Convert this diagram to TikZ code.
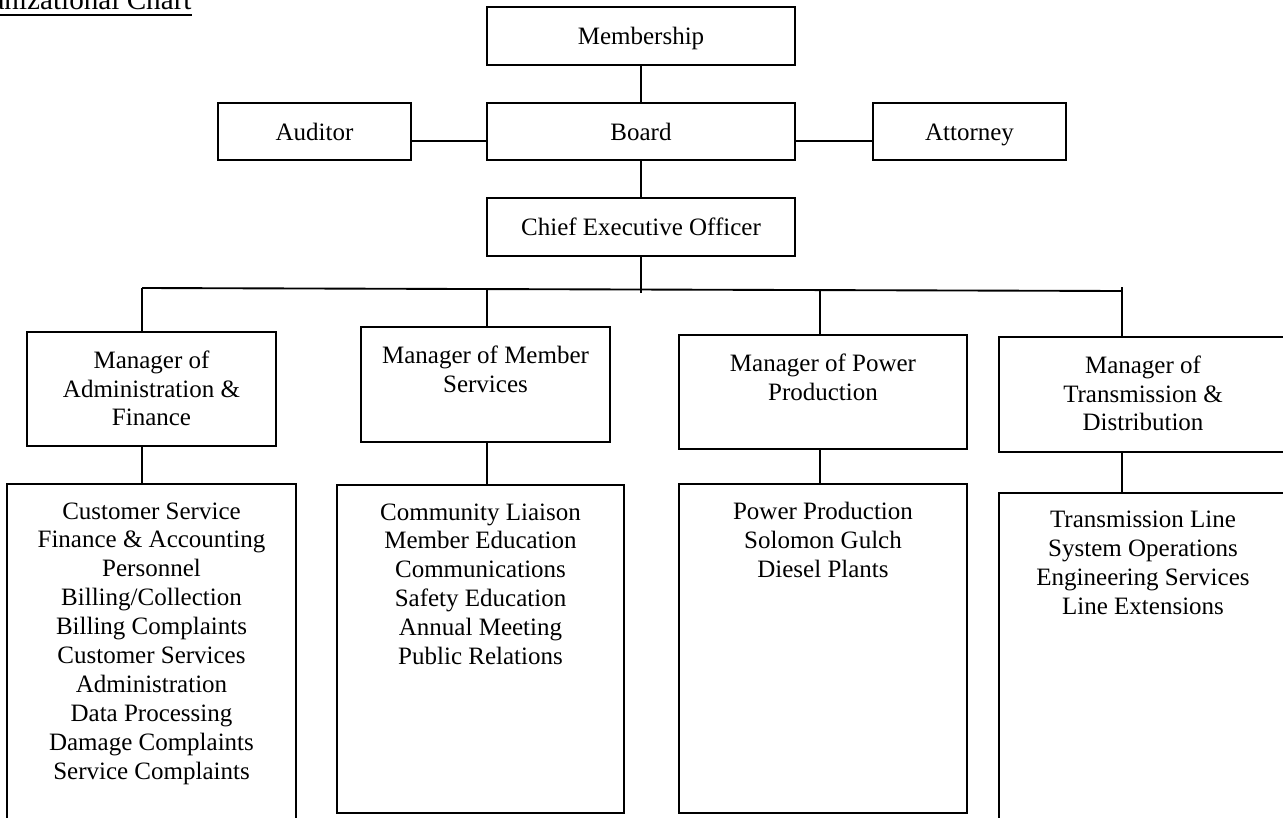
\documentclass[tikz,border=0pt]{standalone}
\usepackage{fontspec}
\setmainfont{Liberation Serif}
\newcommand\fs{\fontsize{12}{13.9}\selectfont}
\tikzset{
  boxst/.style={draw, line width=0.9pt, inner sep=0pt, font=\fs, text height=10pt, text depth=1.8pt},
  txt/.style={inner sep=0pt, align=center, font=\fs, anchor=north},
  conn/.style={line width=0.9pt},
}
\newcommand\orgbox[6]{\node[boxst, minimum width={(#4-#2)*0.48pt}, minimum height={(#5-#3)*0.48pt}] (#1) at ({(#2+#4)/2},{(#3+#5)/2}) {#6};}
\begin{document}
\begin{tikzpicture}[x=0.48pt,y=-0.48pt]
\useasboundingbox (0,0) rectangle (1283,817);
% title
\node[anchor=base east, inner sep=0pt, font=\fontsize{14}{16}\selectfont] (title) at (192,10) {Organizational Chart};
\draw[line width=0.9pt] ([yshift=-2.4pt]title.base west) -- ([yshift=-2.4pt]title.base east);
% top boxes
\orgbox{mem}{487}{7}{795}{65}{Membership}
\orgbox{board}{487}{103}{795}{160}{Board}
\orgbox{ceo}{487}{198}{795}{256}{Chief Executive Officer}
\orgbox{aud}{218}{103}{411}{160}{Auditor}
\orgbox{att}{873}{103}{1066}{160}{Attorney}
% manager boxes
\orgbox{ma}{27}{332}{276}{446}{}
\orgbox{mm}{361}{327}{610}{442}{}
\orgbox{mp}{679}{335}{967}{449}{}
\orgbox{mt}{999}{337}{1287}{452}{}
% detail boxes
\orgbox{da}{7}{484}{296}{830}{}
\orgbox{dm}{337}{485}{624}{813}{}
\orgbox{dp}{679}{484}{967}{813}{}
\orgbox{dt}{999}{493}{1287}{830}{}
% texts
\node[txt] (tma) at ([yshift=-9.1pt]ma.north) {Manager of\\Administration \&\\Finance};
\node[txt] (tmm) at ([yshift=-9.1pt]mm.north) {Manager of Member\\Services};
\node[txt] (tmp) at ([yshift=-9.1pt]mp.north) {Manager of Power\\Production};
\node[txt] (tmt) at ([yshift=-9.1pt]mt.north) {Manager of\\Transmission \&\\Distribution};
\node[txt] (tda) at ([yshift=-9.1pt]da.north) {Customer Service\\Finance \& Accounting\\Personnel\\Billing/Collection\\Billing Complaints\\Customer Services\\Administration\\Data Processing\\Damage Complaints\\Service Complaints};
\node[txt] (tdm) at ([yshift=-9.1pt]dm.north) {Community Liaison\\Member Education\\Communications\\Safety Education\\Annual Meeting\\Public Relations};
\node[txt] (tdp) at ([yshift=-9.1pt]dp.north) {Power Production\\Solomon Gulch\\Diesel Plants};
\node[txt] (tdt) at ([yshift=-9.1pt]dt.north) {Transmission Line\\System Operations\\Engineering Services\\Line Extensions};
% connectors
\draw[conn] (mem.south) -- (board.north);
\draw[conn] (board.south) -- (ceo.north);
\draw[conn] ([yshift=-4.5pt]aud.east) -- ([yshift=-4.5pt]board.west);
\draw[conn] ([yshift=-4.5pt]board.east) -- ([yshift=-4.5pt]att.west);
\coordinate (ceoj) at (641,293);
\draw[conn] (ceo.south) -- (ceoj);
\coordinate (ja) at (142,288);
\coordinate (jm) at (487,289);
\coordinate (jp) at (820,290);
\coordinate (jt) at (1122,291);
\coordinate (jtt) at (1122,287);
\draw[conn] (ja) -- (jt);
\draw[conn] (ja) -- (ja |- ma.north);
\draw[conn] (jm) -- (jm |- mm.north);
\draw[conn] (jp) -- (jp |- mp.north);
\draw[conn] (jtt) -- (jtt |- mt.north);
\draw[conn] (ja |- ma.south) -- (ja |- da.north);
\draw[conn] (jm |- mm.south) -- (jm |- dm.north);
\draw[conn] (jp |- mp.south) -- (jp |- dp.north);
\draw[conn] (jt |- mt.south) -- (jt |- dt.north);
\end{tikzpicture}
\end{document}
